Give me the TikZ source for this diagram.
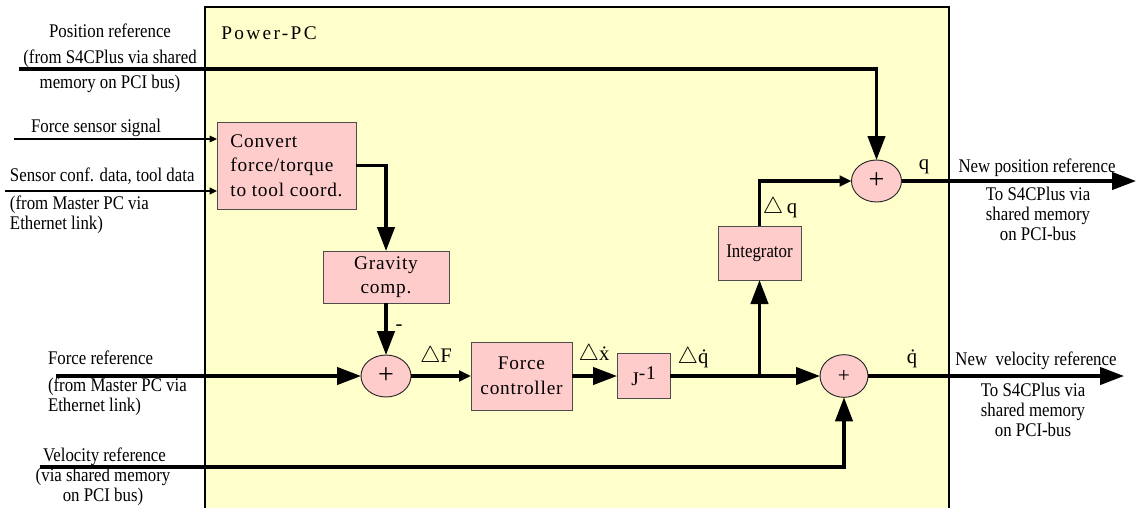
\documentclass[tikz,border=0pt]{standalone}
\usepackage{fontspec}
\setmainfont{Liberation Serif}
\newfontfamily\lblfont[FakeStretch=0.87]{Liberation Serif}
\newfontfamily\boxfont[LetterSpace=4]{Liberation Serif}
\newfontfamily\titlefont[LetterSpace=12]{Liberation Serif}
\usetikzlibrary{arrows.meta,shapes.geometric}

\definecolor{ppcyellow}{HTML}{FFFFCC}
\definecolor{blockpink}{HTML}{FFCCCC}

% increment sign used in the signal labels
\newcommand\incr{\scalebox{1.2}{$\triangle$}}

\begin{document}
\begin{tikzpicture}[x=0.75pt,y=-0.75pt,
  every node/.style={inner sep=0pt, outer sep=0pt},
  block/.style={draw=black!70, line width=0.7pt, fill=blockpink,
    font=\boxfont\fontsize{14.5}{18.5}\selectfont, align=center},
  sumnode/.style={ellipse, draw=black!85, line width=0.7pt, fill=blockpink,
    minimum width=37.5pt, minimum height=31.5pt,
    font=\fontsize{21}{22}\selectfont},
  lbl/.style={font=\lblfont\fontsize{14.5}{15}\selectfont},
  sym/.style={font=\fontsize{15.5}{16}\selectfont},
  sig/.style={line width=2.4pt, -{Triangle[length=18pt,width=13pt]}},
  sigmid/.style={line width=2.4pt, -{Triangle[length=9pt,width=8pt]}},
  feed/.style={line width=1.3pt, -{Triangle[length=5.5pt,width=5pt]}},
  feedthin/.style={line width=0.8pt, -{Triangle[length=5.5pt,width=5pt]}},
]
\useasboundingbox (0,0) rectangle (1136,508);

% Power-PC area
\fill[ppcyellow] (205,7) rectangle (949,508);
\draw[line width=0.8pt] (205,508) -- (205,7) -- (949,7) -- (949,508);
\node[font=\titlefont\fontsize{14.5}{15}\selectfont] (ppc) at (269,33) {Power-PC};

% blocks
\node[block, minimum width=104.25pt, minimum height=65.25pt, align=left] (conv) at (286.5,165.5)
  {Convert\\force/torque\\to tool coord.};
\node[block, minimum width=94.5pt, minimum height=39pt] (grav) at (386,277) {Gravity\\comp.};
\node[sumnode] (s1) at (386,376) {+};
\node[block, minimum width=75.75pt, minimum height=51pt] (fc) at (521.5,376) {Force\\controller};
\node[block, minimum width=39.75pt, minimum height=33.75pt] (jinv) at (643.5,376)
  {J\raisebox{4.5pt}{-1}};
\node[block, font=\lblfont\fontsize{14.5}{15}\selectfont,
  minimum width=62.25pt, minimum height=40.5pt] (integ) at (759.5,253) {Integrator};
\node[sumnode] (s2) at (876.5,181) {+};
\node[sumnode, minimum width=36pt, minimum height=32pt,
  font=\fontsize{16}{17}\selectfont] (s3) at (844,376) {+};

% free ends of the connectors
\coordinate (posin) at (19,69);
\coordinate (fsin) at (14,139);
\coordinate (scin) at (5,191);
\coordinate (frin) at (56,376);
\coordinate (vrin) at (40,467);
\coordinate (branch) at (759.5,376);
\coordinate (qout) at (1136,181);
\coordinate (qdout) at (1124,376);

% connectors
\draw[sig] (posin) -| (s2.north);
\draw[feedthin] (fsin) -- (fsin -| conv.west);
\draw[feed] (scin) -- (scin -| conv.west);
\draw[sig] (conv.east) -| (grav.north);
\draw[sig] (grav.south) -- (s1.north);
\draw[sig] (frin) -- (s1.west);
\draw[sigmid] (s1.east) -- (fc.west);
\draw[sig] (fc.east) -- (jinv.west);
\draw[sig] (jinv.east) -- (s3.west);
\draw[sig] (branch) -- (integ.south);
\draw[sigmid] (integ.north) |- (s2.west);
\draw[sig] (s2.east) -- (qout);
\draw[sig] (vrin) -| (s3.south);
\draw[sig] (s3.east) -- (qdout);

% signal labels
\node[sym] (lq) at (924,167) {q};
\node[sym] (lqd) at (912,359) {\.{q}};
\node[sym] (ldq) at (780,208) {\incr\,q};
\node[sym] (ldF) at (436,357) {\incr F};
\node[sym] (ldx) at (594,355) {\incr\.{x}};
\node[sym] (ldqd) at (693,358) {\incr\.{q}};
\node[sym] (minus) at (399,328) {-};

% inputs
\node[lbl, align=center, font=\lblfont\fontsize{14.5}{19}\selectfont] (posref) at (110,58.5)
  {Position reference\\(from S4CPlus via shared\\memory on PCI bus)};
\node[lbl] (fss) at (96,128) {Force sensor signal};
\node[lbl, anchor=west] (scd) at (10,176) {Sensor conf. data, tool data};
\node[lbl, anchor=west, align=left] (scdsrc) at (10,215) {(from Master PC via\\Ethernet link)};
\node[lbl, anchor=west] (fref) at (48,358) {Force reference};
\node[lbl, anchor=west, align=left] (frefsrc) at (48,397) {(from Master PC via\\Ethernet link)};
\node[lbl] (vref) at (104.5,457) {Velocity reference};
\node[lbl, align=center] (vrefsrc) at (103,486.5) {(via shared memory\\on PCI bus)};

% outputs
\node[lbl] (npr) at (1037,168) {New position reference};
\node[lbl, align=center] (nprdst) at (1038,214) {To S4CPlus via\\shared memory\\on PCI-bus};
\node[lbl] (nvr) at (1036,361) {New\ \ velocity reference};
\node[lbl, align=center] (nvrdst) at (1033,410) {To S4CPlus via\\shared memory\\on PCI-bus};
\end{tikzpicture}
\end{document}
